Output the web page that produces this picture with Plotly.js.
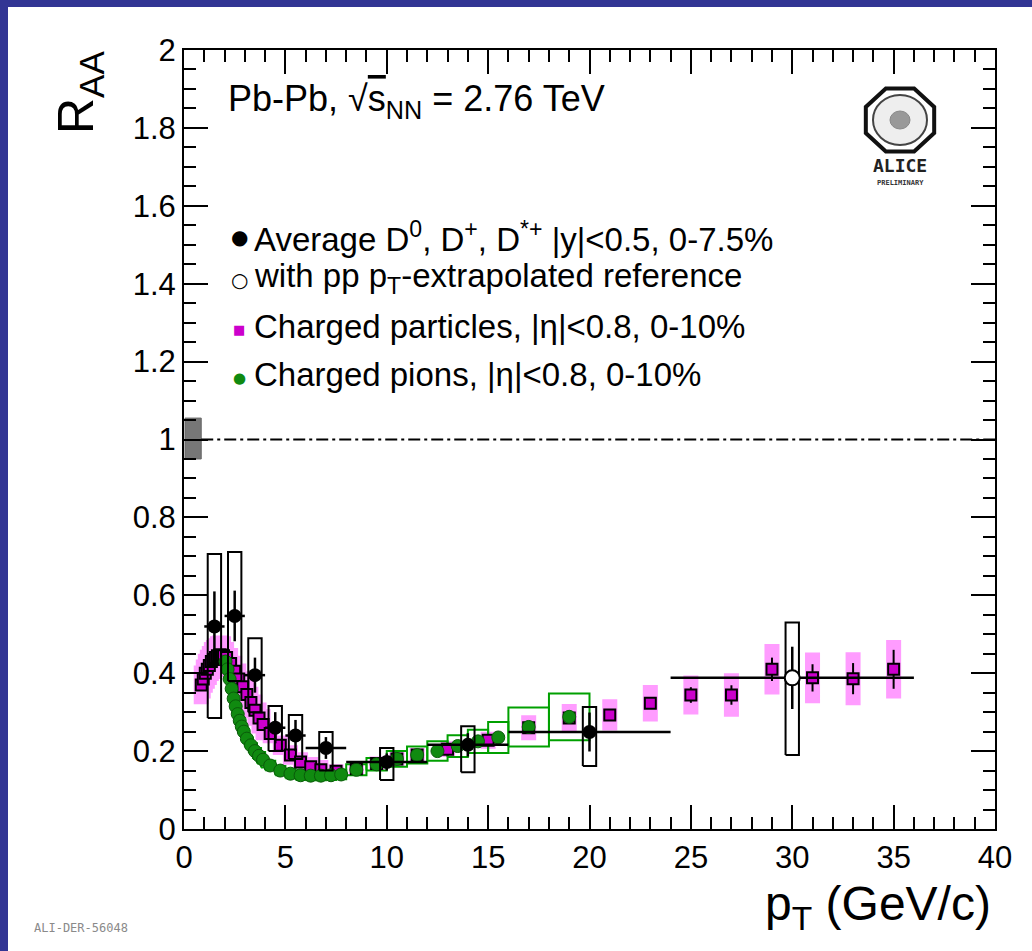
<!DOCTYPE html>
<html>
<head>
<meta charset="utf-8">
<script src="https://cdn.plot.ly/plotly-3.0.1.min.js"></script>
<style>
  html, body { margin: 0; padding: 0; background: #323594; width: 1032px; height: 951px; overflow: hidden; }
  #plot { position: absolute; left: 8px; top: 7px; width: 1024px; height: 944px; background: #ffffff; }
</style>
</head>
<body>
<div id="plot"></div>
<script>
// ---------------- DATA ----------------
// Average D0, D+, D*+ (|y|<0.5, 0-7.5%)
var dX       = [1.5, 2.5, 3.5, 4.5, 5.5, 7, 10, 14, 20];
var dXhalf   = [0.5, 0.5, 0.5, 0.5, 0.5, 1, 2, 2, 4];
var dY       = [0.52, 0.547, 0.395, 0.26, 0.24, 0.208, 0.172, 0.216, 0.249];
var dStat    = [0.09, 0.065, 0.045, 0.04, 0.04, 0.028, 0.022, 0.03, 0.05];
var dSystLo  = [0.285, 0.38, 0.30, 0.20, 0.18, 0.15, 0.126, 0.146, 0.162];
var dSystHi  = [0.706, 0.711, 0.49, 0.316, 0.293, 0.249, 0.208, 0.264, 0.313];

// with pp pT-extrapolated reference
var eX       = [30];
var eXhalf   = [6];
var eY       = [0.388];
var eStat    = [0.08];
var eSystLo  = [0.19];
var eSystHi  = [0.53];

// Charged particles (|eta|<0.8, 0-10%)
var chX = [0.85,0.95,1.05,1.15,1.25,1.35,1.45,1.55,1.65,1.75,1.85,1.95,
           2.1,2.3,2.5,2.7,2.9,3.1,3.3,3.5,3.7,3.9,
           4.25,4.75,5.25,5.75,6.25,6.75,
           7.5,8.5,9.5,10.5,11.5,
           13,15,17,19,21,23,25,27,29,31,33,35];
var chY = [0.37,0.385,0.40,0.41,0.42,0.43,0.435,0.44,0.445,0.447,0.447,0.445,
           0.44,0.425,0.405,0.385,0.365,0.345,0.325,0.305,0.285,0.268,
           0.245,0.215,0.19,0.172,0.16,0.152,
           0.148,0.155,0.168,0.18,0.19,
           0.205,0.228,0.26,0.285,0.293,0.323,0.344,0.344,0.41,0.388,0.386,0.41];
var chStat = [0.004,0.004,0.004,0.004,0.004,0.004,0.004,0.004,0.004,0.004,0.004,0.004,
              0.004,0.004,0.004,0.004,0.004,0.004,0.004,0.004,0.004,0.004,
              0.004,0.004,0.004,0.004,0.004,0.004,
              0.005,0.005,0.005,0.006,0.006,
              0.007,0.008,0.009,0.01,0.012,0.015,0.02,0.025,0.03,0.035,0.04,0.05];
var chSyst = [0.05,0.05,0.05,0.05,0.05,0.05,0.05,0.05,0.05,0.05,0.05,0.05,
              0.04,0.04,0.04,0.04,0.04,0.04,0.04,0.04,0.04,0.04,
              0.025,0.025,0.025,0.025,0.025,0.025,
              0.018,0.018,0.018,0.018,0.018,
              0.02,0.022,0.032,0.036,0.04,0.047,0.05,0.056,0.065,0.065,0.068,0.075];

// Charged pions (|eta|<0.8, 0-10%)
var piX = [2.05,2.15,2.25,2.35,2.45,2.55,2.65,2.75,2.85,2.95,
           3.1,3.3,3.5,3.7,3.9,
           4.25,4.75,5.25,5.75,6.25,6.75,7.25,7.75,
           8.5,9.5,10.5,11.5,12.5,13.5,14.5,15.5,17,19];
var piXhalf = [0.05,0.05,0.05,0.05,0.05,0.05,0.05,0.05,0.05,0.05,
               0.1,0.1,0.1,0.1,0.1,
               0.25,0.25,0.25,0.25,0.25,0.25,0.25,0.25,
               0.5,0.5,0.5,0.5,0.5,0.5,0.5,0.5,1,1];
var piY = [0.43,0.41,0.385,0.36,0.335,0.315,0.295,0.278,0.263,0.25,
           0.232,0.215,0.2,0.188,0.178,
           0.163,0.15,0.142,0.138,0.137,0.137,0.138,0.14,
           0.152,0.166,0.18,0.19,0.2,0.213,0.225,0.235,0.262,0.288];
var piSyst = [0.025,0.025,0.025,0.025,0.025,0.025,0.025,0.025,0.025,0.025,
              0.02,0.02,0.02,0.02,0.02,
              0.012,0.012,0.012,0.012,0.012,0.012,0.012,0.012,
              0.014,0.016,0.02,0.022,0.025,0.028,0.03,0.04,0.05,0.06];

// Normalisation uncertainty and reference line at 1
var normX = [0.05, 0.85];
var normY = [0.95, 1.055];
var refX  = [0.85, 40];
var refY  = [1, 1];

// ---------------- STYLE / HELPERS ----------------
var FONT = 'Liberation Sans, Arial, Helvetica, sans-serif';
var D_BOX_HALF = 0.33;
var CH_BOX_HALF = 0.37;

function rectPath(x0s, x1s, y0s, y1s) {
  var X = [], Y = [];
  for (var i = 0; i < x0s.length; i++) {
    X.push(x0s[i], x1s[i], x1s[i], x0s[i], x0s[i], null);
    Y.push(y0s[i], y0s[i], y1s[i], y1s[i], y0s[i], null);
  }
  return {x: X, y: Y};
}

var chBox = rectPath(
  chX.map(function(v){return v - CH_BOX_HALF;}),
  chX.map(function(v){return v + CH_BOX_HALF;}),
  chY.map(function(v,i){return v - chSyst[i];}),
  chY.map(function(v,i){return v + chSyst[i];}));
var piBox = rectPath(
  piX.map(function(v,i){return v - piXhalf[i];}),
  piX.map(function(v,i){return v + piXhalf[i];}),
  piY.map(function(v,i){return v - piSyst[i];}),
  piY.map(function(v,i){return v + piSyst[i];}));
var dBox = rectPath(
  dX.map(function(v){return v - D_BOX_HALF;}),
  dX.map(function(v){return v + D_BOX_HALF;}),
  dSystLo, dSystHi);
var eBox = rectPath(
  eX.map(function(v){return v - D_BOX_HALF;}),
  eX.map(function(v){return v + D_BOX_HALF;}),
  eSystLo, eSystHi);
var nBox = rectPath([normX[0]], [normX[1]], [normY[0]], [normY[1]]);

var traces = [
  {x: chBox.x, y: chBox.y, mode: 'lines', fill: 'toself', fillcolor: '#ff9cff',
   line: {width: 0, color: 'rgba(0,0,0,0)'}, hoverinfo: 'skip', showlegend: false},
  {x: nBox.x, y: nBox.y, mode: 'lines', fill: 'toself', fillcolor: '#777777',
   line: {width: 1, color: '#666666'}, hoverinfo: 'skip', showlegend: false},
  {x: refX, y: refY, mode: 'lines', line: {color: '#000000', width: 2, dash: '12px,4px,3px,4px'},
   hoverinfo: 'skip', showlegend: false},
  {x: piBox.x, y: piBox.y, mode: 'lines', line: {color: '#00a000', width: 2},
   hoverinfo: 'skip', showlegend: false},
  {x: chX, y: chY, mode: 'markers', type: 'scatter', showlegend: false,
   marker: {symbol: 'square', size: 11, color: '#cc00cc', line: {color: '#000000', width: 2}},
   error_y: {type: 'data', array: chStat, color: '#000000', thickness: 2, width: 0}},
  {x: piX, y: piY, mode: 'markers', type: 'scatter', showlegend: false,
   marker: {symbol: 'circle', size: 13, color: '#108a10', line: {color: '#0a5a0a', width: 1}}},
  {x: dBox.x, y: dBox.y, mode: 'lines', line: {color: '#000000', width: 2},
   hoverinfo: 'skip', showlegend: false},
  {x: eBox.x, y: eBox.y, mode: 'lines', line: {color: '#000000', width: 2},
   hoverinfo: 'skip', showlegend: false},
  {x: dX, y: dY, mode: 'markers', type: 'scatter', showlegend: false,
   marker: {symbol: 'circle', size: 14, color: '#000000'},
   error_x: {type: 'data', array: dXhalf, color: '#000000', thickness: 2.5, width: 0},
   error_y: {type: 'data', array: dStat, color: '#000000', thickness: 2.5, width: 0}},
  {x: eX, y: eY, mode: 'markers', type: 'scatter', showlegend: false,
   marker: {symbol: 'circle', size: 15, color: '#ffffff', line: {color: '#000000', width: 2}},
   error_x: {type: 'data', array: eXhalf, color: '#000000', thickness: 2.5, width: 0},
   error_y: {type: 'data', array: eStat, color: '#000000', thickness: 2.5, width: 0}}
];

// pixel -> paper helpers (image coordinates of plot frame: x 184..995, y 50..829)
function PX(ix) { return (ix - 184) / 811; }
function PY(iy) { return (829 - iy) / 779; }

var annFont = function(sz, col) { return {family: FONT, size: sz, color: col || '#000000'}; };

var annotations = [
  {xref: 'paper', yref: 'paper', x: PX(226), y: PY(101), xanchor: 'left', yanchor: 'middle', showarrow: false,
   text: 'Pb-Pb, √<span style="text-decoration:overline">s</span><sub>NN</sub> = 2.76 TeV', font: annFont(36)},
  // legend symbols
  {xref: 'paper', yref: 'paper', x: PX(239), y: PY(237), xanchor: 'center', yanchor: 'middle', showarrow: false,
   text: '●', font: {family: 'DejaVu Sans', size: 20, color: '#000000'}},
  {xref: 'paper', yref: 'paper', x: PX(239), y: PY(280), xanchor: 'center', yanchor: 'middle', showarrow: false,
   text: '○', font: {family: 'DejaVu Sans', size: 20, color: '#000000'}},
  {xref: 'paper', yref: 'paper', x: PX(239), y: PY(329), xanchor: 'center', yanchor: 'middle', showarrow: false,
   text: '■', font: {family: 'DejaVu Sans', size: 13, color: '#cc00cc'}},
  {xref: 'paper', yref: 'paper', x: PX(239), y: PY(378), xanchor: 'center', yanchor: 'middle', showarrow: false,
   text: '●', font: {family: 'DejaVu Sans', size: 15, color: '#108a10'}},
  // legend texts
  {xref: 'paper', yref: 'paper', x: PX(252), y: PY(237), xanchor: 'left', yanchor: 'middle', showarrow: false,
   text: 'Average D<sup>0</sup>, D<sup>+</sup>, D<sup>*+</sup> |y|<0.5, 0-7.5%', font: annFont(33)},
  {xref: 'paper', yref: 'paper', x: PX(252), y: PY(278), xanchor: 'left', yanchor: 'middle', showarrow: false,
   text: 'with pp p<sub>T</sub>-extrapolated reference', font: annFont(33)},
  {xref: 'paper', yref: 'paper', x: PX(252), y: PY(326), xanchor: 'left', yanchor: 'middle', showarrow: false,
   text: 'Charged particles, |η|<0.8, 0-10%', font: annFont(33)},
  {xref: 'paper', yref: 'paper', x: PX(252), y: PY(374), xanchor: 'left', yanchor: 'middle', showarrow: false,
   text: 'Charged pions, |η|<0.8, 0-10%', font: annFont(33)},
  // axis titles
  {xref: 'paper', yref: 'paper', x: PX(80), y: PY(93), xanchor: 'center', yanchor: 'middle', showarrow: false,
   textangle: -90, text: 'R<sub>AA</sub>', font: annFont(50)},
  {xref: 'paper', yref: 'paper', x: PX(993), y: PY(907), xanchor: 'right', yanchor: 'middle', showarrow: false,
   text: 'p<sub>T</sub> (GeV/c)', font: annFont(48)},
  // ALICE logo text
  {xref: 'paper', yref: 'paper', x: PX(900), y: PY(166), xanchor: 'center', yanchor: 'middle', showarrow: false,
   text: '<b>ALICE</b>', font: {family: 'DejaVu Sans Mono, monospace', size: 18, color: '#222222'}},
  {xref: 'paper', yref: 'paper', x: PX(900), y: PY(183), xanchor: 'center', yanchor: 'middle', showarrow: false,
   text: '<b>PRELIMINARY</b>', font: {family: 'DejaVu Sans Mono, monospace', size: 7, color: '#333333'}},
  // figure id
  {xref: 'paper', yref: 'paper', x: PX(32), y: PY(928), xanchor: 'left', yanchor: 'middle', showarrow: false,
   text: 'ALI-DER-56048', font: {family: 'DejaVu Sans Mono, monospace', size: 12, color: '#8a8a8a'}}
];

// ALICE logo: octagon + inner circle (decoration, paper coordinates)
function octagonPath(cx, cy, rx, ry) {
  var s = '';
  for (var k = 0; k < 8; k++) {
    var a = Math.PI / 8 + k * Math.PI / 4;
    var px = PX(cx + rx * Math.cos(a)), py = PY(cy + ry * Math.sin(a));
    s += (k === 0 ? 'M' : 'L') + px + ',' + py + ' ';
  }
  return s + 'Z';
}
var shapes = [
  {type: 'path', xref: 'paper', yref: 'paper', path: octagonPath(900, 120, 37, 34),
   line: {color: '#111111', width: 4}, fillcolor: '#ffffff'},
  {type: 'circle', xref: 'paper', yref: 'paper', x0: PX(873), x1: PX(927), y0: PY(145), y1: PY(95),
   line: {color: '#444444', width: 2}, fillcolor: '#eeeeee'},
  {type: 'circle', xref: 'paper', yref: 'paper', x0: PX(890), x1: PX(910), y0: PY(129), y1: PY(111),
   line: {color: '#888888', width: 1}, fillcolor: '#999999'}
];

var axisCommon = {
  ticks: 'inside', tickwidth: 2, tickcolor: '#000000', mirror: 'allticks',
  showline: true, linewidth: 2, linecolor: '#000000', showgrid: false, zeroline: false,
  tickfont: {family: FONT, size: 31, color: '#000000'}, fixedrange: true
};

var layout = {
  width: 1024, height: 944,
  margin: {l: 176, r: 37, t: 43, b: 122, pad: 0},
  paper_bgcolor: '#ffffff', plot_bgcolor: '#ffffff',
  showlegend: false,
  xaxis: Object.assign({}, axisCommon, {range: [0, 40], tick0: 0, dtick: 5, ticklen: 24,
    minor: {dtick: 1, ticklen: 12, tickwidth: 2, ticks: 'inside', tickcolor: '#000000'}}),
  yaxis: Object.assign({}, axisCommon, {range: [0, 2], tick0: 0, dtick: 0.2, ticklen: 24,
    minor: {dtick: 0.05, ticklen: 12, tickwidth: 2, ticks: 'inside', tickcolor: '#000000'}}),
  annotations: annotations,
  shapes: shapes
};

Plotly.newPlot('plot', traces, layout, {displayModeBar: false, staticPlot: true});
</script>
</body>
</html>
